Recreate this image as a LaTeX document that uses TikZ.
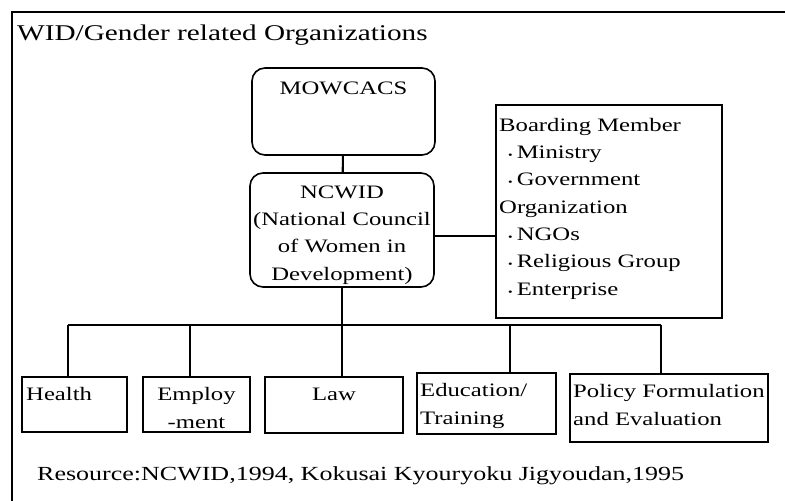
\documentclass[tikz,border=0pt]{standalone}
\usepackage{fontspec}
\setmainfont{Liberation Serif}[FakeStretch=1.3]
\newcommand{\dotitem}{\hspace{9pt}{\fontsize{10}{10}\selectfont\textbullet}\hspace{4pt}}
\begin{document}
\begin{tikzpicture}[x=1pt,y=-1pt,
    rbox/.style={shape=rectangle,draw=black,rounded corners=13pt,line width=1.6pt,inner sep=0pt},
    sbox/.style={shape=rectangle,draw=black,line width=1.6pt,inner sep=0pt},
    txt/.style={inner sep=0pt,font=\fontsize{19}{27.3}\selectfont},
    link/.style={line width=2.1pt}]
    \useasboundingbox (0,0) rectangle (785,501);
    % outer frame (runs off to the right and below)
    \path [draw=black,line width=1.5pt] (785,12) -- (12,12) -- (12,501);
    \node[txt,anchor=base west,font=\fontsize{22.5}{26}\selectfont] (TITLE) at (17,40) {WID/Gender related Organizations};

    % top of the chart (base of a multi-line node = its last line)
    \node[rbox,minimum width=183pt,minimum height=87pt] (MOW)   at (343.5,111.5) {};
    \node[txt,anchor=base] (MOWT) at (343.5,94) {MOWCACS};
    \node[rbox,minimum width=184pt,minimum height=114pt] (NCWID) at (342,230) {};
    \node[txt,anchor=base,align=center] (NCWIDT) at (342,280) {NCWID\\(National Council\\of Women in\\Development)};
    \node[sbox,minimum width=226pt,minimum height=213pt] (BOARD) at (609,211.5) {};
    \node[txt,anchor=base west,align=left] (BOARDT) at (499,295) {Boarding Member\\
        \dotitem Ministry\\ \dotitem Government\\ Organization\\
        \dotitem NGOs\\ \dotitem Religious Group\\ \dotitem Enterprise};

    % the five committees
    \node[sbox,minimum width=105pt,minimum height=55pt] (HEALTH) at (74.5,404.5) {};
    \node[sbox,minimum width=107pt,minimum height=55pt] (EMPL)   at (196.5,404.5) {};
    \node[sbox,minimum width=138pt,minimum height=56pt] (LAW)    at (334,405) {};
    \node[sbox,minimum width=139pt,minimum height=61pt] (EDU)    at (486.5,403.5) {};
    \node[sbox,minimum width=198pt,minimum height=68pt] (POLICY) at (669,408) {};
    \node[txt,anchor=base west] (HEALTHT) at (26,400) {Health};
    \node[txt,anchor=base,align=center] (EMPLT) at (196.5,428) {Employ\\-ment};
    \node[txt,anchor=base] (LAWT) at (334,400) {Law};
    \node[txt,anchor=base west,align=left] (EDUT) at (420,424) {Education/\\Training};
    \node[txt,anchor=base west,align=left] (POLICYT) at (573,425) {Policy Formulation\\and Evaluation};

    \node[txt,anchor=base west,font=\fontsize{20}{24}\selectfont] (SRC) at (37,480) {Resource:NCWID,1994, Kokusai Kyouryoku Jigyoudan,1995};

    % connectors
    \coordinate (JBOARD) at (496,236);
    \coordinate (BUSL) at (68,325);
    \coordinate (BUSR) at (661,325);
    \coordinate (JEMPL) at (190,325);
    \coordinate (JEDU) at (510,325);
    \path [-,link] (MOW) edge (NCWID);
    \path [-,link] (NCWID.east |- JBOARD) edge (JBOARD);
    \path [-,link] (NCWID.south) edge (NCWID.south |- LAW.north);
    \path [-,link] (BUSL) edge (BUSR);
    \path [-,link] (BUSL) edge (BUSL |- HEALTH.north);
    \path [-,link] (JEMPL) edge (JEMPL |- EMPL.north);
    \path [-,link] (JEDU) edge (JEDU |- EDU.north);
    \path [-,link] (BUSR) edge (BUSR |- POLICY.north);
\end{tikzpicture}
\end{document}
